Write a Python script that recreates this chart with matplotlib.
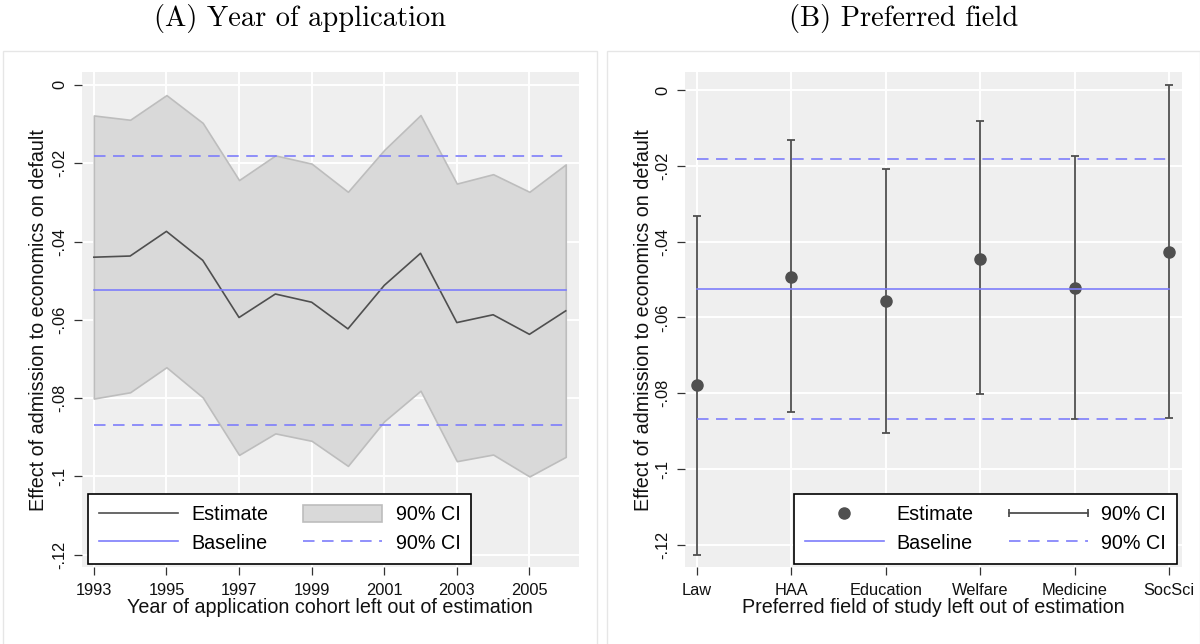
import matplotlib
matplotlib.use("Agg")
import matplotlib.pyplot as plt
import numpy as np
from matplotlib.lines import Line2D
from matplotlib.patches import Patch, Rectangle
from matplotlib.legend_handler import HandlerLine2D

# ---- data -------------------------------------------------------------
years = list(range(1993, 2007))
year_est = [-0.0440, -0.0437, -0.0374, -0.0448, -0.0594, -0.0534, -0.0555,
            -0.0623, -0.0512, -0.0430, -0.0607, -0.0587, -0.0637, -0.0577]
year_hi = [-0.0078, -0.0089, -0.0026, -0.0097, -0.0243, -0.0180, -0.0201,
           -0.0273, -0.0166, -0.0077, -0.0252, -0.0228, -0.0273, -0.0203]
year_lo = [-0.0801, -0.0785, -0.0721, -0.0798, -0.0945, -0.0890, -0.0909,
           -0.0973, -0.0859, -0.0781, -0.0961, -0.0944, -0.1000, -0.0950]
year_ticks = [1993, 1995, 1997, 1999, 2001, 2003, 2005]

fields = ["Law", "HAA", "Education", "Welfare", "Medicine", "SocSci"]
field_est = [-0.0779, -0.0492, -0.0557, -0.0445, -0.0522, -0.0426]
field_hi = [-0.0332, -0.0131, -0.0208, -0.0082, -0.0174, 0.0014]
field_lo = [-0.1227, -0.0850, -0.0904, -0.0803, -0.0869, -0.0864]

baseline = -0.0525
baseline_hi = -0.0181
baseline_lo = -0.0868

y_ticks = [0, -0.02, -0.04, -0.06, -0.08, -0.10, -0.12]
y_ticklabels = ["0", "-.02", "-.04", "-.06", "-.08", "-.1", "-.12"]

# ---- style ------------------------------------------------------------
plt.rcParams["font.family"] = ["Liberation Sans", "DejaVu Sans"]
plt.rcParams["lines.scale_dashes"] = False

BG = "#efefef"
FILL = "#d9d9d9"
FILL_EDGE = "#bdbdbd"
DARK = "#4f4f4f"
BLUE = "#7d7dfb"
DASH = (0, (8.3, 5.4))
TEXT = "#111111"

W, H = 1200, 644
fig = plt.figure(figsize=(W / 100, H / 100), dpi=100)

# white panel boxes behind each graph
for x0, x1 in [(3, 597), (607, 1200)]:
    fig.patches.append(Rectangle((x0 / W, -0.02), (x1 - x0) / W, (H - 51) / H + 0.02,
                                 transform=fig.transFigure, fc="white",
                                 ec="#e6e6e6", lw=1.0, zorder=-5))

fig.text(300 / W, 1 - 26 / H, "(A) Year of application", ha="center",
         va="baseline", fontsize=20.5, family="cmr10", color="black")
fig.text(904 / W, 1 - 26 / H, "(B) Preferred field", ha="center",
         va="baseline", fontsize=20.5, family="cmr10", color="black")

ax_bottom = 1 - 567.3 / H
ax_height = (567.3 - 72) / H
axA = fig.add_axes([81.5 / W, ax_bottom, (578.8 - 81.5) / W, ax_height])
axB = fig.add_axes([684.6 / W, ax_bottom, (1182 - 684.6) / W, ax_height])


def style(ax, ylabel, xlabel):
    ax.set_facecolor(BG)
    for s in ax.spines.values():
        s.set_visible(False)
    ax.grid(True, color="white", lw=1.4)
    ax.set_axisbelow(True)
    ax.tick_params(length=6, width=0.9, color="#333333", labelsize=11.8,
                   labelcolor=TEXT)
    ax.tick_params(axis="y", pad=4.5)
    ax.tick_params(axis="x", pad=5)
    ax.set_yticks(y_ticks)
    ax.set_yticklabels(y_ticklabels, rotation=90, va="center")
    ax.set_ylabel(ylabel, fontsize=14.2, color=TEXT)
    ax.set_xlabel(xlabel, fontsize=14.2, color=TEXT)


LEG_KW = dict(ncol=2, loc="upper left", borderaxespad=0, fontsize=14.2,
              handlelength=4.0, handleheight=1.0, handletextpad=0.67,
              columnspacing=1.8, labelspacing=0.45, borderpad=0.55,
              fancybox=False, framealpha=1)

# ---- panel A ----------------------------------------------------------
style(axA, "Effect of admission to economics on default",
      "Year of application cohort left out of estimation")
axA.fill_between(years, year_lo, year_hi, facecolor=FILL, edgecolor=FILL_EDGE,
                 lw=1.2, zorder=2)
axA.plot(years, year_est, color=DARK, lw=1.2, zorder=3)
axA.plot([years[0], years[-1]], [baseline, baseline], color=BLUE, lw=1.2, zorder=4)
for v in (baseline_hi, baseline_lo):
    axA.plot([years[0], years[-1]], [v, v], color=BLUE, lw=1.2, ls=DASH, zorder=4)
axA.set_xticks(year_ticks)
axA.set_xlim(1992.66, 2006.36)
axA.set_ylim(-0.1232, 0.0033)
axA.yaxis.set_label_coords(-0.067, 0.5)
axA.xaxis.set_label_coords(0.5, -0.061)

hA = [Line2D([], [], color=DARK, lw=1.2),
      Line2D([], [], color=BLUE, lw=1.2),
      Patch(facecolor=FILL, edgecolor=FILL_EDGE, lw=1.2),
      Line2D([], [], color=BLUE, lw=1.2, ls=DASH)]
legA = axA.legend(hA, ["Estimate", "Baseline", "90% CI", "90% CI"],
                  bbox_to_anchor=(0.0131, 0.148), **LEG_KW)
legA.get_frame().set_edgecolor("black")
legA.get_frame().set_linewidth(1.2)

# ---- panel B ----------------------------------------------------------
style(axB, "Effect of admission to economics on default",
      "Preferred field of study left out of estimation")
xpos = np.arange(1, len(fields) + 1)
est = np.array(field_est)
err = [est - np.array(field_lo), np.array(field_hi) - est]
axB.errorbar(xpos, est, yerr=err, fmt="o", color=DARK, ms=8, elinewidth=1.3,
             capsize=2.8, capthick=1.3, zorder=3)
axB.plot([xpos[0], xpos[-1]], [baseline, baseline], color=BLUE, lw=1.2, zorder=4)
for v in (baseline_hi, baseline_lo):
    axB.plot([xpos[0], xpos[-1]], [v, v], color=BLUE, lw=1.2, ls=DASH, zorder=4)
axB.set_xticks(xpos)
axB.set_xticklabels(fields)
axB.set_xlim(0.869, 6.138)
axB.set_ylim(-0.1259, 0.00475)
axB.yaxis.set_label_coords(-0.064, 0.5)
axB.xaxis.set_label_coords(0.5, -0.061)

h_err = Line2D([], [], color=DARK, lw=1.3, marker="|", ms=5.5, mew=1.3)
hB = [Line2D([], [], ls="none", marker="o", ms=8, color=DARK),
      Line2D([], [], color=BLUE, lw=1.2),
      h_err,
      Line2D([], [], color=BLUE, lw=1.2, ls=DASH)]
legB = axB.legend(hB, ["Estimate", "Baseline", "90% CI", "90% CI"],
                  bbox_to_anchor=(0.2195, 0.148),
                  handler_map={h_err: HandlerLine2D(numpoints=2, marker_pad=0)},
                  **LEG_KW)
legB.get_frame().set_edgecolor("black")
legB.get_frame().set_linewidth(1.2)

fig.savefig("out.png", dpi=100)
